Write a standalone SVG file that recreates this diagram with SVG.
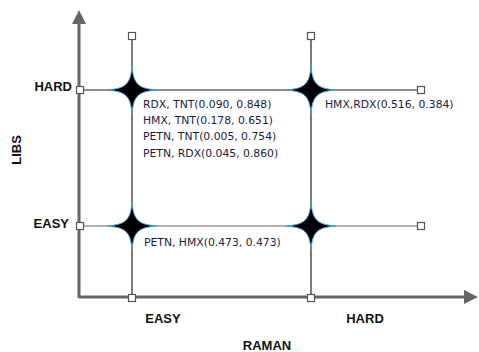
<svg xmlns="http://www.w3.org/2000/svg" width="479" height="352" viewBox="0 0 479 352">
<style>
.ax{stroke:#666;stroke-width:3;fill:none}
.ln{stroke:#222;stroke-width:1.2;fill:none}
.lg{stroke:#666;stroke-width:1.2;fill:none}
.sq{fill:#fff;stroke:#555;stroke-width:1.2}
.lbl{font-family:"Liberation Sans",Arial,sans-serif;font-weight:bold;font-size:13px;fill:#111}
.dt{font-family:"DejaVu Sans",sans-serif;font-size:10.8px;fill:#1c1c40}
.star{fill:#000;stroke:#4aa3e0;stroke-width:1}
</style>
<defs>
<path id="st" d="M0,-24 C1.5,-6 6,-1.5 25,0 C6,1.5 1.5,6 0,24 C-1.5,6 -6,1.5 -25,0 C-6,-1.5 -1.5,-6 0,-24 Z"/>
</defs>
<g id="axes">
<path class="ax" d="M79,298 V22"/>
<path d="M72,24 L79,10 L86,24 Z" fill="#666"/>
<path class="ax" d="M79,297 H464"/>
<path d="M464,290 L478,297 L464,304 Z" fill="#666"/>
</g>
<g id="connectors">
<path class="ln" d="M80,90 H421"/>
<path class="lg" d="M80,226 H421"/>
<path class="ln" d="M132,36 V298"/>
<path class="ln" d="M311,36 V298"/>
<rect class="sq" x="128.5" y="32.5" width="7" height="7"/>
<rect class="sq" x="307.5" y="32.5" width="7" height="7"/>
<rect class="sq" x="76.5" y="86.5" width="7" height="7"/>
<rect class="sq" x="417.5" y="86.5" width="7" height="7"/>
<rect class="sq" x="76.5" y="222.5" width="7" height="7"/>
<rect class="sq" x="417.5" y="222.5" width="7" height="7"/>
<rect class="sq" x="128.5" y="294.5" width="7" height="7"/>
<rect class="sq" x="307.5" y="294.5" width="7" height="7"/>
</g>
<g id="n1"><use href="#st" class="star" transform="translate(132,90)"/>
<text class="dt" x="143" y="108">RDX, TNT(0.090, 0.848)</text>
<text class="dt" x="143" y="124">HMX, TNT(0.178, 0.651)</text>
<text class="dt" x="143" y="140">PETN, TNT(0.005, 0.754)</text>
<text class="dt" x="143" y="157">PETN, RDX(0.045, 0.860)</text>
</g>
<g id="n2"><use href="#st" class="star" transform="translate(311,90)"/>
<text class="dt" x="325" y="108">HMX,RDX(0.516, 0.384)</text>
</g>
<g id="n3"><use href="#st" class="star" transform="translate(132,226)"/>
<text class="dt" x="144" y="246">PETN, HMX(0.473, 0.473)</text>
</g>
<g id="n4"><use href="#st" class="star" transform="translate(311,226)"/></g>
<g id="labels">
<text class="lbl" x="72" y="91" text-anchor="end">HARD</text>
<text class="lbl" x="69" y="228" text-anchor="end">EASY</text>
<text class="lbl" transform="translate(21,150) rotate(-90)" text-anchor="middle">LIBS</text>
<text class="lbl" x="163" y="323" text-anchor="middle">EASY</text>
<text class="lbl" x="365" y="323" text-anchor="middle">HARD</text>
<text class="lbl" x="267" y="350" text-anchor="middle">RAMAN</text>
</g>
</svg>
